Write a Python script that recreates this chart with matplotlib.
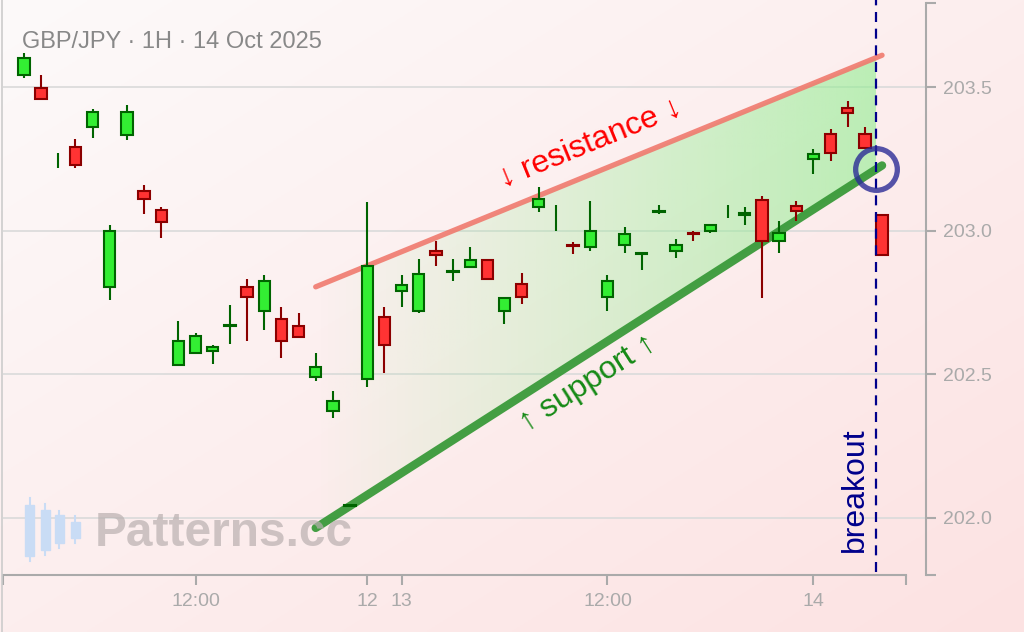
import numpy as np
import matplotlib
matplotlib.use("Agg")
import matplotlib.pyplot as plt
from matplotlib.colors import to_rgb
from matplotlib.patches import Polygon, Rectangle
from matplotlib.lines import Line2D

plt.rcParams['font.family'] = ['Liberation Sans', 'DejaVu Sans']

title = "GBP/JPY · 1H · 14 Oct 2025"

# hourly candles, index 0..50
opens = [203.544, 203.497, 203.240, 203.294, 203.361, 202.806, 203.333, 203.140, 203.072, 202.533,
         202.576, 202.582, 202.668, 202.806, 202.721, 202.694, 202.667, 202.490, 202.374, 202.042,
         202.484, 202.701, 202.791, 202.721, 202.931, 202.856, 202.874, 202.899, 202.721, 202.814,
         203.083, 203.050, 202.951, 202.943, 202.769, 202.951, 202.920, 203.066, 202.930, 202.994,
         203.000, 203.060, 203.057, 203.106, 202.965, 203.087, 203.251, 203.337, 203.428, 203.337,
         203.056]
highs = [203.619, 203.544, 203.271, 203.321, 203.425, 203.021, 203.439, 203.160, 203.084, 202.686,
         202.644, 202.603, 202.742, 202.833, 202.846, 202.734, 202.713, 202.574, 202.443, 202.045,
         203.102, 202.734, 202.847, 202.901, 202.965, 202.901, 202.943, 202.901, 202.766, 202.853,
         203.152, 203.091, 202.963, 203.105, 202.847, 203.013, 202.928, 203.091, 202.971, 202.998,
         203.021, 203.091, 203.083, 203.122, 203.035, 203.105, 203.285, 203.354, 203.453, 203.363,
         203.056]
lows = [203.532, 203.459, 203.218, 203.218, 203.323, 202.760, 203.315, 203.058, 202.975, 202.533,
        202.576, 202.536, 202.605, 202.618, 202.653, 202.557, 202.626, 202.478, 202.347, 202.041,
        202.457, 202.506, 202.736, 202.715, 202.876, 202.827, 202.874, 202.833, 202.675, 202.745,
        203.065, 203.001, 202.919, 202.931, 202.722, 202.924, 202.862, 203.058, 202.905, 202.966,
        202.994, 203.044, 203.021, 202.766, 202.924, 203.036, 203.198, 203.245, 203.363, 203.290,
        202.916]
closes = [203.602, 203.459, 203.240, 203.228, 203.414, 203.001, 203.414, 203.111, 203.032, 202.618,
          202.632, 202.597, 202.672, 202.769, 202.827, 202.617, 202.630, 202.527, 202.409, 202.044,
          202.876, 202.603, 202.812, 202.849, 202.916, 202.860, 202.897, 202.833, 202.766, 202.769,
          203.111, 203.050, 202.947, 203.001, 202.827, 202.989, 202.924, 203.069, 202.951, 202.990,
          203.021, 203.060, 203.061, 202.965, 202.994, 203.070, 203.267, 203.271, 203.410, 203.290,
          202.916]

xtick_pos = [10, 20, 22, 34, 46]
xtick_labels = ['12:00', '12', '13', '12:00', '14']
ytick_vals = [202.0, 202.5, 203.0, 203.5]

res_x = [17, 50]
res_y = [202.805, 203.612]
sup_x = [17, 50]
sup_y = [201.965, 203.228]
breakout_x = 49.65

W, H = 1024, 632
fig = plt.figure(figsize=(W / 100, H / 100), dpi=100)

# soft pink background
bg = fig.add_axes([0, 0, 1, 1], zorder=-10)
gx, gy = np.meshgrid(np.linspace(0, 1, 256), np.linspace(0, 1, 256))
t = (gx + gy) / 2
c0 = np.array([253, 250, 250]) / 255
c1 = np.array([252, 226, 226]) / 255
bg.imshow(c0 + (c1 - c0) * t[..., None], extent=[0, 1, 0, 1], aspect='auto', origin='upper')
bg.axis('off')

ax = fig.add_axes([3 / W, (H - 575) / H, (926 - 3) / W, (575 - 3) / H])
ax.set_facecolor('none')
xlim = (-1.22, 52.56)
ylim = (201.801, 203.794)
x_axis_end = 51.42

# wedge fill, fading in to the right
res_end = np.interp(breakout_x, res_x, res_y)
sup_end = np.interp(breakout_x, sup_x, sup_y)
poly = Polygon([[sup_x[0], sup_y[0]], [res_x[0], res_y[0]], [breakout_x, res_end], [breakout_x, sup_end]],
               closed=True, facecolor='none', edgecolor='none')
ax.add_patch(poly)
grad = np.zeros((2, 256, 4))
grad[..., :3] = to_rgb('#90ee90')
grad[..., 3] = np.linspace(0.0, 0.6, 256)
im = ax.imshow(grad, extent=[sup_x[0], breakout_x, ylim[0], ylim[1]], aspect='auto', origin='lower', zorder=1)
im.set_clip_path(poly)

for v in ytick_vals:
    ax.axhline(v, color='#dcdcdc', lw=1.3, zorder=0.5)

ax.plot(res_x, res_y, color='#f07a6e', lw=3.8, solid_capstyle='round', alpha=0.9, zorder=2)
ax.plot(sup_x, sup_y, color='#3a9a3a', lw=6, solid_capstyle='round', alpha=0.95, zorder=2)

# candles
idx = np.arange(len(opens))
for i, o, h, l, c in zip(idx, opens, highs, lows, closes):
    up = c >= o
    edge = '#006400' if up else '#8b0000'
    fill = '#33ee33' if up else '#ff3333'
    ax.vlines(i, l, h, color=edge, lw=1.5, zorder=3)
    if abs(c - o) > 1e-9:
        ax.bar(i, abs(c - o), bottom=min(o, c), width=0.66, color=fill, edgecolor=edge, lw=1.5, zorder=4)

ax.axvline(breakout_x, ymin=0.006, ymax=1.006, color='#00008b', lw=1.6, dashes=(4.5, 3), clip_on=False, zorder=5)
ax.plot(breakout_x, sup_end, 'o', ms=30, mfc='none', mec='#2b2b96', mew=3.8, alpha=0.8, zorder=6)

ax.set_xlim(*xlim)
ax.set_ylim(*ylim)

# text along the lines
def screen_angle(xs, ys):
    p = ax.transData.transform(np.column_stack([xs, ys]))
    return np.degrees(np.arctan2(p[1, 1] - p[0, 1], p[1, 0] - p[0, 0]))

ax.text(32.98, 203.307, '↓ resistance ↓', color='red', fontsize=23, rotation=screen_angle(res_x, res_y),
        ha='center', va='center', rotation_mode='anchor', zorder=7)
ax.text(32.87, 202.470, '↑ support ↑', color='#168a16', fontsize=23, rotation=screen_angle(sup_x, sup_y),
        ha='center', va='center', rotation_mode='anchor', zorder=7)
ax.text(48.43, 201.882, 'breakout', color='#00008b', fontsize=23, rotation=90, ha='center', va='bottom', zorder=7)

# axes styling
for s in ['left', 'top']:
    ax.spines[s].set_visible(False)
for s in ['bottom', 'right']:
    ax.spines[s].set_color('#aaaaaa')
    ax.spines[s].set_linewidth(1.5)
ax.spines['bottom'].set_bounds(xlim[0], x_axis_end)
ax.yaxis.tick_right()
ax.set_xticks([xlim[0]] + xtick_pos + [x_axis_end])
ax.set_xticklabels([''] + xtick_labels + [''])
ax.set_yticks([ylim[0]] + ytick_vals + [ylim[1]])
ax.set_yticklabels([''] + [f'{v:.1f}' for v in ytick_vals] + [''])
ax.tick_params(axis='x', length=7, width=1.5, color='#aaaaaa', labelcolor='#aaaaaa', labelsize=14, pad=6)
ax.tick_params(axis='y', length=7.5, width=1.5, color='#aaaaaa', labelcolor='#aaaaaa', labelsize=14, pad=5)

# title, watermark, border
fig.text(22 / W, 1 - 42 / H, title, fontsize=17, color='#888888', va='center', ha='left')
fig.text(95 / W, 1 - 534 / H, 'Patterns.cc', fontsize=34.5, fontweight='bold', color='#b9b0b0',
         alpha=0.7, va='center', ha='left')
icon_x = [29.5, 45, 59, 75]
icon_body = [(505, 556), (510, 550), (515, 543), (522, 538)]
icon_wick = [(498, 561), (504, 555), (511, 548), (516, 543)]
for cx, (bt, bb), (wt, wb) in zip(icon_x, icon_body, icon_wick):
    fig.add_artist(Line2D([cx / W, cx / W], [1 - wb / H, 1 - wt / H], color='#c9dcf5', lw=1.5))
    fig.add_artist(Rectangle(((cx - 4.5) / W, 1 - bb / H), 9 / W, (bb - bt) / H, color='#c9dcf5'))
fig.add_artist(Line2D([1.5 / W, 1.5 / W], [0, 1], color='#cccccc', lw=1.2))

fig.savefig('out.png', dpi=100)
